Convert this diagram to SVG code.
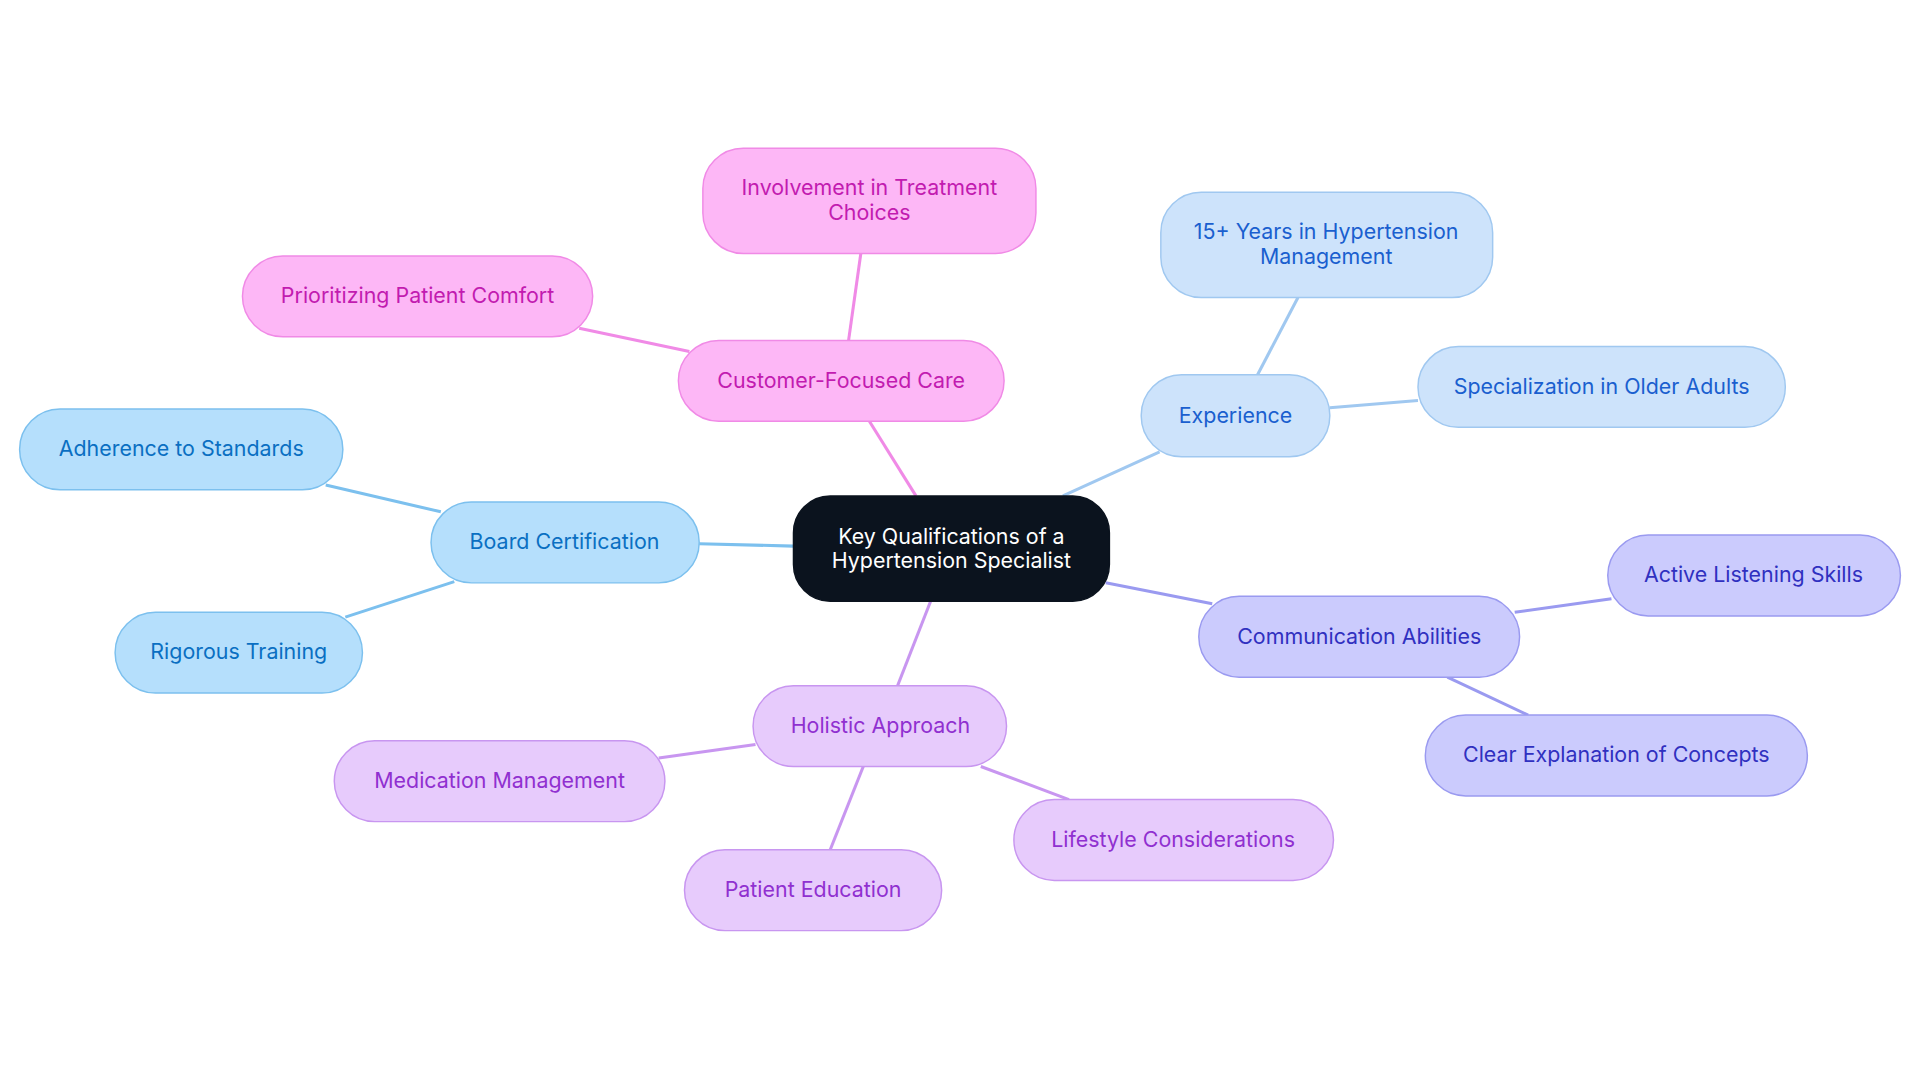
<svg xmlns="http://www.w3.org/2000/svg" width="1920" height="1083" viewBox="0 0 1920 1083">
<style>
text{font-family:Inter,"Noto Sans","Liberation Sans",sans-serif;font-size:17.5px;text-anchor:middle;dominant-baseline:central}
.pk rect{fill:#fdb7f6;stroke:#f08ae6}.pk text{fill:#c21bb0}
.lb rect{fill:#cde3fb;stroke:#a0c8f0}.lb text{fill:#1a5fcf}
.bc rect{fill:#b5dffc;stroke:#7cc0ee}.bc text{fill:#0a6fc2}
.iv rect{fill:#cbcbfd;stroke:#9a9af0}.iv text{fill:#3030c0}
.pu rect{fill:#e7cbfc;stroke:#c896f0}.pu text{fill:#9030d0}
rect{stroke-width:1.2}
#edges line{stroke-width:2.5;fill:none}
</style>
<rect width="1920" height="1083" fill="#fff"/>
<g transform="scale(1.2245)">
<g id="edges">
<line x1="748" y1="405" x2="710" y2="344" stroke="#f08ae6"/>
<line x1="693" y1="278" x2="703" y2="207" stroke="#f08ae6"/>
<line x1="563" y1="287" x2="473" y2="268" stroke="#f08ae6"/>
<line x1="868" y1="405" x2="947" y2="369" stroke="#a0c8f0"/>
<line x1="1027" y1="306" x2="1060" y2="243" stroke="#a0c8f0"/>
<line x1="1086" y1="333" x2="1158" y2="327" stroke="#a0c8f0"/>
<line x1="648" y1="446" x2="571" y2="444" stroke="#7cc0ee"/>
<line x1="360" y1="418" x2="266" y2="396" stroke="#7cc0ee"/>
<line x1="371" y1="475" x2="282" y2="504" stroke="#7cc0ee"/>
<line x1="903" y1="476" x2="990" y2="493" stroke="#9a9af0"/>
<line x1="1237" y1="500" x2="1316" y2="489" stroke="#9a9af0"/>
<line x1="1182" y1="553" x2="1248" y2="584" stroke="#9a9af0"/>
<line x1="760" y1="491" x2="733" y2="560" stroke="#c896f0"/>
<line x1="617" y1="608" x2="538" y2="619" stroke="#c896f0"/>
<line x1="705" y1="626" x2="678" y2="694" stroke="#c896f0"/>
<line x1="801" y1="626" x2="873" y2="653" stroke="#c896f0"/>
</g>
<g id="center"><rect x="648" y="405" width="258" height="86" rx="30" fill="#0b131e" stroke="#0b131e"/><text x="777" y="438" fill="#fff">Key Qualifications of a</text><text x="777" y="457" fill="#fff">Hypertension Specialist</text></g>
<g id="customer" class="pk"><rect x="554" y="278" width="266" height="66" rx="33"/><text x="687" y="310">Customer-Focused Care</text></g>
<g id="involvement" class="pk"><rect x="574" y="121" width="272" height="86" rx="33"/><text x="710" y="153">Involvement in Treatment</text><text x="710" y="173">Choices</text></g>
<g id="prioritizing" class="pk"><rect x="198" y="209" width="286" height="66" rx="33"/><text x="341" y="241">Prioritizing Patient Comfort</text></g>
<g id="experience" class="lb"><rect x="932" y="306" width="154" height="67" rx="33"/><text x="1009" y="339">Experience</text></g>
<g id="years" class="lb"><rect x="948" y="157" width="271" height="86" rx="33"/><text x="1083" y="189">15+ Years in Hypertension</text><text x="1083" y="209">Management</text></g>
<g id="older" class="lb"><rect x="1158" y="283" width="300" height="66" rx="33"/><text x="1308" y="315">Specialization in Older Adults</text></g>
<g id="board" class="bc"><rect x="352" y="410" width="219" height="66" rx="33"/><text x="461" y="442">Board Certification</text></g>
<g id="adherence" class="bc"><rect x="16" y="334" width="264" height="66" rx="33"/><text x="148" y="366">Adherence to Standards</text></g>
<g id="rigorous" class="bc"><rect x="94" y="500" width="202" height="66" rx="33"/><text x="195" y="532">Rigorous Training</text></g>
<g id="communication" class="iv"><rect x="979" y="487" width="262" height="66" rx="33"/><text x="1110" y="519">Communication Abilities</text></g>
<g id="listening" class="iv"><rect x="1313" y="437" width="239" height="66" rx="33"/><text x="1432" y="469">Active Listening Skills</text></g>
<g id="clear" class="iv"><rect x="1164" y="584" width="312" height="66" rx="33"/><text x="1320" y="616">Clear Explanation of Concepts</text></g>
<g id="holistic" class="pu"><rect x="615" y="560" width="207" height="66" rx="33"/><text x="719" y="592">Holistic Approach</text></g>
<g id="medication" class="pu"><rect x="273" y="605" width="270" height="66" rx="33"/><text x="408" y="637">Medication Management</text></g>
<g id="education" class="pu"><rect x="559" y="694" width="210" height="66" rx="33"/><text x="664" y="726">Patient Education</text></g>
<g id="lifestyle" class="pu"><rect x="828" y="653" width="261" height="66" rx="33"/><text x="958" y="685">Lifestyle Considerations</text></g>
</g>
</svg>
